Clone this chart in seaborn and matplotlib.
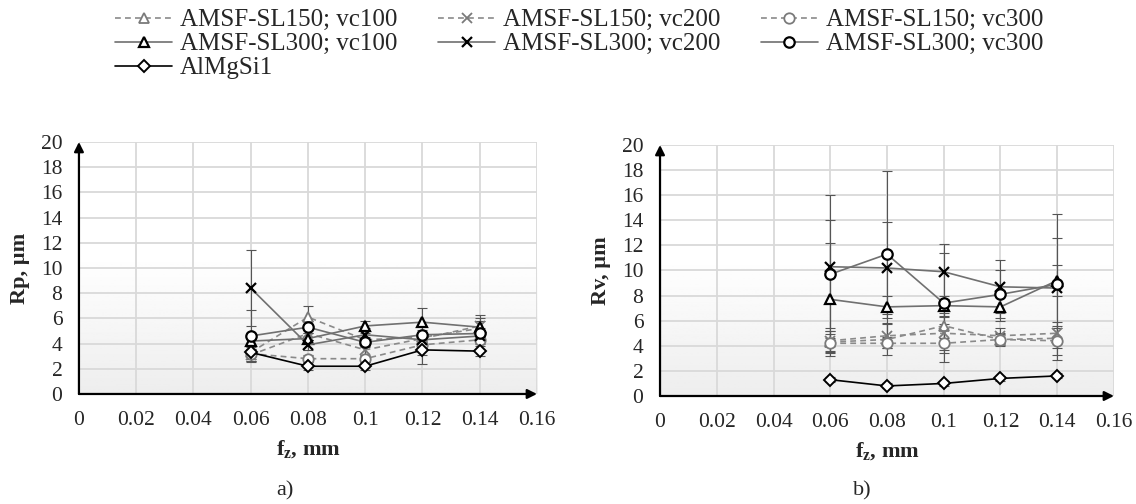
import numpy as np
import pandas as pd
import matplotlib
matplotlib.use("Agg")
import matplotlib.pyplot as plt
import seaborn as sns
from matplotlib.lines import Line2D
from matplotlib.ticker import FuncFormatter, MultipleLocator

# ---------------- data ----------------
fz = [0.06, 0.08, 0.10, 0.12, 0.14]
labels = ["AMSF-SL150; vc100", "AMSF-SL150; vc200", "AMSF-SL150; vc300",
          "AMSF-SL300; vc100", "AMSF-SL300; vc200", "AMSF-SL300; vc300",
          "AlMgSi1"]

# Rp, µm (panel a)
rp_sl150_vc100 = [3.3, 6.1, 4.3, 4.5, 5.2]
rp_sl150_vc200 = [3.1, 4.8, 3.5, 4.4, 5.4]
rp_sl150_vc300 = [3.2, 2.8, 2.8, 3.9, 4.3]
rp_sl300_vc100 = [4.2, 4.4, 5.4, 5.7, 5.3]
rp_sl300_vc200 = [8.4, 3.9, 4.7, 4.3, 4.6]
rp_sl300_vc300 = [4.6, 5.3, 4.1, 4.7, 4.8]
rp_almgsi1 = [3.3, 2.2, 2.2, 3.5, 3.4]

rp_err_sl150_vc100 = [0.5, 0.9, 0.5, 0.4, 1.1]
rp_err_sl150_vc200 = [0.5, 0.5, 0.5, 0.5, 0.6]
rp_err_sl150_vc300 = [0.6, 0.3, 0.3, 1.5, 0.3]
rp_err_sl300_vc100 = [0.5, 0.4, 0.4, 1.1, 0.5]
rp_err_sl300_vc200 = [3.0, 0.4, 0.5, 0.5, 0.5]
rp_err_sl300_vc300 = [2.1, 0.5, 0.4, 0.4, 0.4]
rp_err_almgsi1 = [0.3, 0.3, 0.3, 0.4, 0.4]

# Rv, µm (panel b)
rv_sl150_vc100 = [4.3, 4.5, 5.6, 4.5, 4.6]
rv_sl150_vc200 = [4.4, 4.8, 5.0, 4.8, 5.0]
rv_sl150_vc300 = [4.2, 4.2, 4.2, 4.5, 4.4]
rv_sl300_vc100 = [7.7, 7.1, 7.2, 7.1, 9.2]
rv_sl300_vc200 = [10.3, 10.2, 9.9, 8.7, 8.6]
rv_sl300_vc300 = [9.7, 11.3, 7.4, 8.1, 8.9]
rv_almgsi1 = [1.3, 0.8, 1.0, 1.4, 1.6]

rv_err_sl150_vc100 = [0.9, 1.2, 1.0, 0.5, 0.8]
rv_err_sl150_vc200 = [0.8, 1.0, 1.3, 0.6, 0.6]
rv_err_sl150_vc300 = [0.7, 0.4, 1.5, 0.4, 1.5]
rv_err_sl300_vc100 = [4.5, 0.9, 0.8, 1.1, 1.2]
rv_err_sl300_vc200 = [5.7, 3.7, 2.2, 2.1, 4.0]
rv_err_sl300_vc300 = [4.3, 6.6, 4.0, 1.9, 5.6]
rv_err_almgsi1 = [0.2, 0.2, 0.2, 0.2, 0.2]

rp_series = [rp_sl150_vc100, rp_sl150_vc200, rp_sl150_vc300,
             rp_sl300_vc100, rp_sl300_vc200, rp_sl300_vc300, rp_almgsi1]
rp_errs = [rp_err_sl150_vc100, rp_err_sl150_vc200, rp_err_sl150_vc300,
           rp_err_sl300_vc100, rp_err_sl300_vc200, rp_err_sl300_vc300, rp_err_almgsi1]
rv_series = [rv_sl150_vc100, rv_sl150_vc200, rv_sl150_vc300,
             rv_sl300_vc100, rv_sl300_vc200, rv_sl300_vc300, rv_almgsi1]
rv_errs = [rv_err_sl150_vc100, rv_err_sl150_vc200, rv_err_sl150_vc300,
           rv_err_sl300_vc100, rv_err_sl300_vc200, rv_err_sl300_vc300, rv_err_almgsi1]

# ---------------- styles ----------------
DASH = (0, (3.5, 2.5))
styles = [
    dict(marker="^", ls=DASH, color="#8a8a8a", mec="#7a7a7a", mew=1.3),
    dict(marker="x", ls=DASH, color="#8a8a8a", mec="#7a7a7a", mew=1.3),
    dict(marker="o", ls=DASH, color="#8a8a8a", mec="#7a7a7a", mew=1.3),
    dict(marker="^", ls="-", color="#707070", mec="black", mew=1.6),
    dict(marker="x", ls="-", color="#707070", mec="black", mew=1.6),
    dict(marker="o", ls="-", color="#707070", mec="black", mew=1.6),
    dict(marker="D", ls="-", color="black", mec="black", mew=1.4),
]

sns.set_style("white")
plt.rcParams["font.family"] = ["Liberation Serif", "DejaVu Serif"]
plt.rcParams["mathtext.fontset"] = "custom"
plt.rcParams["mathtext.rm"] = "Liberation Serif"
plt.rcParams["mathtext.bf"] = "Liberation Serif:bold"
plt.rcParams["mathtext.it"] = "Liberation Serif:italic"

fig = plt.figure(figsize=(11.36, 5.04), dpi=100)
ax1 = fig.add_axes([0.0695, 0.2183, 0.4032, 0.5])
ax2 = fig.add_axes([0.581, 0.2143, 0.3996, 0.498])


def draw(ax, series, errs, ylabel):
    # background gradient
    yy = np.linspace(0, 20, 200)
    g = np.clip(0.93 + 0.07 * yy / 11.0, 0.93, 1.0).reshape(-1, 1)
    ax.imshow(g, extent=[0, 0.16, 0, 20], origin="lower", aspect="auto",
              cmap="gray", vmin=0, vmax=1, zorder=0)
    for vals, err in zip(series, errs):
        ax.errorbar(fz, vals, yerr=err, fmt="none", ecolor="#555555",
                    elinewidth=0.8, capsize=3.5, capthick=0.8, zorder=2)
    for vals, st in zip(series, styles):
        msz = 7.5 if st["marker"] != "D" else 6.5
        sns.lineplot(x=fz, y=vals, ax=ax, color=st["color"], linestyle=st["ls"],
                     lw=1.2, marker=st["marker"], markersize=msz,
                     markerfacecolor="white", markeredgecolor=st["mec"],
                     markeredgewidth=st["mew"], legend=False, zorder=3)
    ax.set_xlim(0, 0.16)
    ax.set_ylim(0, 20)
    ax.xaxis.set_major_locator(MultipleLocator(0.02))
    ax.yaxis.set_major_locator(MultipleLocator(2))
    ax.xaxis.set_major_formatter(FuncFormatter(lambda v, p: f"{round(v, 2):g}"))
    ax.yaxis.set_major_formatter(FuncFormatter(lambda v, p: f"{int(round(v))}"))
    ax.set_axisbelow(True)
    ax.grid(True, color="#d9d9d9", lw=1.3)
    for s in ax.spines.values():
        s.set_visible(False)
    ax.tick_params(axis="x", length=0, labelsize=15.5, pad=12)
    ax.tick_params(axis="y", length=0, labelsize=15.5, pad=12)
    ax.annotate("", xy=(0, 1.0), xytext=(0, 0), xycoords="axes fraction",
                arrowprops=dict(arrowstyle="-|>", color="black", lw=1.6,
                                mutation_scale=14, shrinkA=0, shrinkB=0), zorder=5)
    ax.annotate("", xy=(1.0, 0), xytext=(0, 0), xycoords="axes fraction",
                arrowprops=dict(arrowstyle="-|>", color="black", lw=1.6,
                                mutation_scale=14, shrinkA=0, shrinkB=0), zorder=5)
    ax.set_ylabel(ylabel, fontsize=16, fontweight="bold", labelpad=8)
    ax.set_xlabel(r"$\mathbf{f_z}$, mm", fontsize=16, fontweight="bold", labelpad=6)


draw(ax1, rp_series, rp_errs, "Rp, µm")
draw(ax2, rv_series, rv_errs, "Rv, µm")

# legend
handles = []
for st in styles:
    msz = 7.5 if st["marker"] != "D" else 6.5
    handles.append(Line2D([], [], color=st["color"], ls=st["ls"], lw=1.2,
                          marker=st["marker"], markersize=msz, markerfacecolor="white",
                          markeredgecolor=st["mec"], markeredgewidth=st["mew"]))
order = [0, 3, 6, 1, 4, 2, 5]
fig.legend([handles[i] for i in order], [labels[i] for i in order], ncol=3,
           loc="upper left", bbox_to_anchor=(0.088, 1.012), frameon=False,
           fontsize=18, handlelength=2.3, handletextpad=0.3, columnspacing=1.62,
           labelspacing=0.06, borderaxespad=0.2)

fig.text(285 / 1136, 1 - 491 / 504, "a)", fontsize=16, ha="center", va="center")
fig.text(862 / 1136, 1 - 491 / 504, "b)", fontsize=16, ha="center", va="center")

fig.savefig("out.png", dpi=100)
